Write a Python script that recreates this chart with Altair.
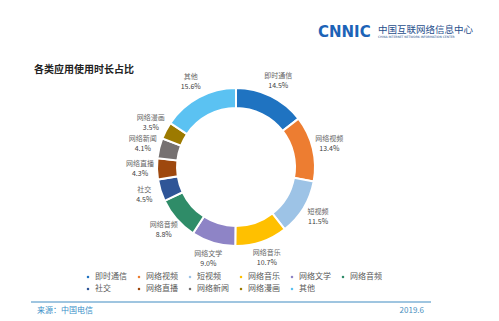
import altair as alt
import pandas as pd

categories = ["即时通信", "网络视频", "短视频", "网络音乐", "网络文学", "网络音频",
              "社交", "网络直播", "网络新闻", "网络漫画", "其他"]
values = [14.5, 13.4, 11.5, 10.7, 9.0, 8.8, 4.5, 4.3, 4.1, 3.5, 15.6]
colors = ["#1F73C1", "#ED7D31", "#9DC3E6", "#FFC000", "#8E84C6", "#2F8C68",
          "#2F5597", "#9E480E", "#767171", "#9C7A00", "#5BC2F2"]

FONT = "Noto Sans CJK SC"

df = pd.DataFrame({"category": categories, "value": values,
                   "order": list(range(len(categories)))})

CX, CY = 236, 167

base = alt.Chart(df).transform_calculate(
    pct="format(datum.value, '.1f') + '%'"
).encode(
    theta=alt.Theta("value:Q", stack=True),
    order=alt.Order("order:Q"),
    x=alt.value(CX),
    y=alt.value(CY),
)

arcs = base.mark_arc(innerRadius=59, outerRadius=79, stroke="white", strokeWidth=2).encode(
    color=alt.Color(
        "category:N",
        sort=categories,
        scale=alt.Scale(domain=categories, range=colors),
        legend=alt.Legend(
            title=None, orient="none", legendX=84, legendY=273,
            direction="horizontal", columns=6, gridAlign="all",
            columnPadding=8, rowPadding=4, symbolType="square",
            symbolSize=5, symbolStrokeWidth=0, labelOffset=3,
            labelFontSize=8, labelFont=FONT, labelColor="#595959",
        ),
    )
)

names = base.mark_text(radius=96, dy=-5, fontSize=7, font=FONT, color="#666666").encode(
    text="category:N", detail="category:N"
)
pcts = base.mark_text(radius=96, dy=5, fontSize=7, font=FONT, color="#404040").encode(
    text="pct:N", detail="category:N"
)


def label(text, x, y, size, color, weight="normal", align="left", font=FONT):
    return alt.Chart(pd.DataFrame({"t": [text]})).mark_text(
        fontSize=size, color=color, fontWeight=weight, align=align,
        baseline="middle", font=font
    ).encode(x=alt.value(x), y=alt.value(y), text="t:N")


title = label("各类应用使用时长占比", 34, 70, 10, "#222222", weight="bold")
logo = label("CNNIC", 318, 32, 15, "#1C63B7", weight="bold", font="DejaVu Sans")
logo_cn = label("中国互联网络信息中心", 378, 30, 9.5, "#1F4E8C")
logo_en = label("CHINA INTERNET NETWORK INFORMATION CENTER", 378, 37, 3, "#1F4E8C",
                font="DejaVu Sans")
source = label("来源：中国电信", 37, 311, 8, "#3A8FC8")
date = label("2019.6", 424, 311, 8, "#4A90C0", align="right")

rule = alt.Chart(pd.DataFrame({"a": [0]})).mark_rule(
    color="#7FB2D6", strokeWidth=1.5
).encode(x=alt.value(31), x2=alt.value(431), y=alt.value(302))

chart = alt.layer(
    arcs, names, pcts, title, logo, logo_cn, logo_en, rule, source, date
).properties(
    width=499, height=321, padding=0, autosize="none", background="white"
).configure_view(stroke=None)

chart.save("out.html", embed_options={"renderer": "svg", "actions": False})
